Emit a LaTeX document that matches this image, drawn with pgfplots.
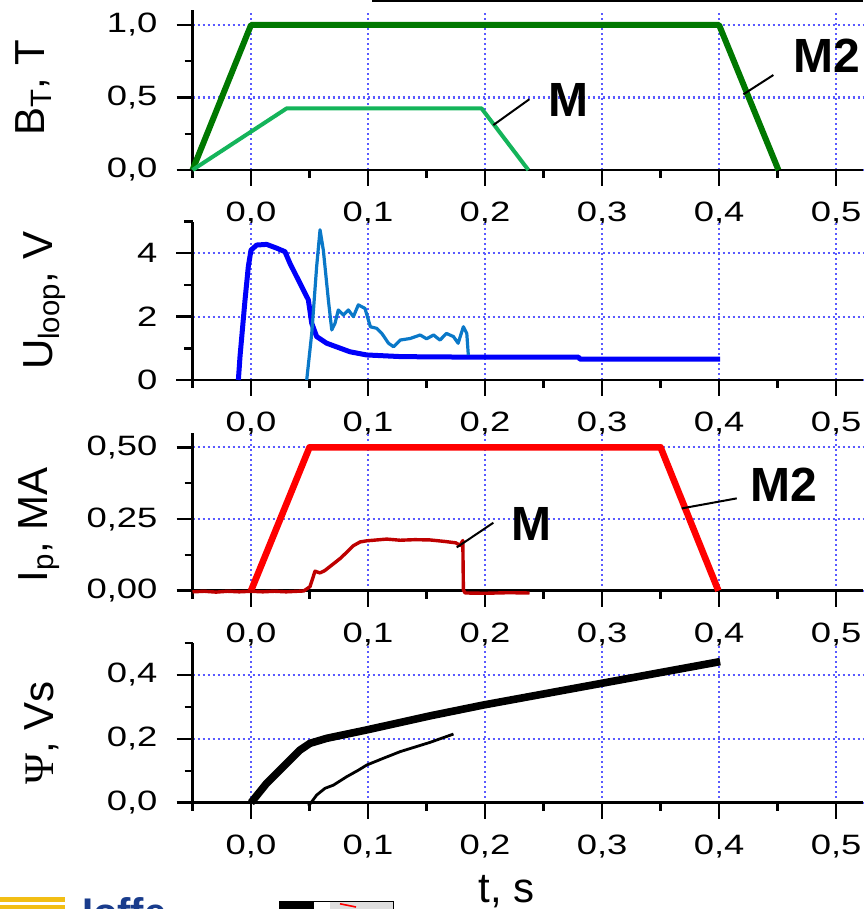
\documentclass[border=0pt]{standalone}
\usepackage{fontspec}
\setmainfont{Liberation Sans}
\newfontfamily\tickfont[FakeStretch=1.3]{Liberation Sans}
\newfontfamily\greekfont{Liberation Serif}
\usepackage{pgfplots}
\pgfplotsset{compat=1.18}

\definecolor{gridblue}{RGB}{90,90,255}
\definecolor{bdark}{RGB}{0,120,0}
\definecolor{blight}{RGB}{20,180,90}
\definecolor{uthick}{RGB}{0,0,250}
\definecolor{uthin}{RGB}{10,120,200}
\definecolor{ipthick}{RGB}{255,0,0}
\definecolor{ipthin}{RGB}{190,0,0}
\definecolor{ioffeblue}{RGB}{25,60,140}
\definecolor{ioffeyellow}{RGB}{242,190,20}

\tikzset{
  callout/.style={black,line width=1pt},
  tag/.style={font=\bfseries\fontsize{24}{28}\selectfont,inner sep=0pt},
}

\pgfplotsset{
  /pgf/number format/assume math mode=true,
  panel/.style={
    scale only axis, width=335.25pt,
    xmin=-0.05, xmax=0.523,
    axis x line=bottom, axis y line=left,
    axis line style={line width=1.2pt,-},
    tick align=outside,
    major tick length=8pt, minor tick length=4pt,
    every tick/.style={black,line width=1.2pt},
    xtick={0,0.1,0.2,0.3,0.4,0.5},
    minor xtick={-0.05,0.05,0.15,0.25,0.35,0.45},
    grid=major,
    major grid style={gridblue,line width=1.1pt,dash pattern=on 1pt off 1.5pt},
    ticklabel style={font=\tickfont\fontsize{14}{16}\selectfont},
    xticklabel style={yshift=-4.5pt,/pgf/number format/.cd,fixed,fixed zerofill,precision=1,use comma},
    yticklabel style={xshift=-6pt},
    scaled ticks=false,
    label style={font=\fontsize{21}{24}\selectfont},
    clip=false,
  },
}

\begin{document}
\begin{tikzpicture}
\useasboundingbox (0,0) rectangle (431.5pt,454.5pt);

% ---- toroidal field B_T ----
\begin{axis}[panel, at={(96.25pt,369.5pt)}, anchor=south west, height=79.75pt,
  ymin=0, ymax=1.1, ytick={0,0.5,1}, minor ytick={0.25,0.75},
  yticklabel style={/pgf/number format/.cd,fixed,fixed zerofill,precision=1,use comma},
  ylabel={B\textsubscript{T}, T},
  ylabel style={at={(axis description cs:-0.22,0.514)},anchor=base}]
\addplot[bdark, line width=3pt, line join=round] coordinates {
  (-0.05,0) (0,1) (0.4,1) (0.4507,0)};
\addplot[blight, line width=2pt, line join=round] coordinates {
  (-0.05,0) (0.0305,0.425) (0.197,0.425) (0.237,0)};
\draw[callout] (axis cs:0.2071,0.31) -- (axis cs:0.2379,0.488);
\node[tag] at (axis cs:0.271,0.483) {M};
\draw[callout] (axis cs:0.4208,0.522) -- (axis cs:0.4464,0.655);
\node[tag] at (axis cs:0.492,0.788) {M2};
\end{axis}

% ---- loop voltage ----
\begin{axis}[panel, at={(96.25pt,264.5pt)}, anchor=south west, height=79.2pt,
  ymin=0, ymax=5, ytick={0,2,4}, minor ytick={1,3,5},
  ylabel={U\textsubscript{loop}, V},
  ylabel style={at={(axis description cs:-0.2095,0.5)},anchor=base}]
\addplot[uthick, line width=2.5pt, line join=round] coordinates {
  (-0.0108,0) (-0.0094,0.74) (-0.0051,2.53) (-0.0023,3.58) (0,4.1)
  (0.0049,4.26) (0.0134,4.28) (0.022,4.16) (0.029,4.05) (0.0333,3.68)
  (0.0419,3.05) (0.049,2.53) (0.0519,1.79) (0.0561,1.37) (0.0647,1.16)
  (0.0846,0.89) (0.0989,0.79) (0.127,0.74) (0.15,0.73) (0.2,0.72)
  (0.28,0.72) (0.281,0.66) (0.4009,0.66)};
\addplot[uthin, line width=1.6pt, line join=round] coordinates {
  (0.0476,0) (0.0519,1.47) (0.0561,3.58) (0.059,4.74) (0.0618,4.1)
  (0.0661,2.53) (0.069,1.58) (0.0718,1.79) (0.0746,2.21) (0.0789,2.05)
  (0.0832,2.21) (0.0875,2.0) (0.0917,2.37) (0.0974,2.26) (0.102,1.68)
  (0.1075,1.63) (0.1118,1.47) (0.1175,1.16) (0.1218,1.05) (0.1275,1.26)
  (0.136,1.31) (0.1446,1.42) (0.150,1.30) (0.156,1.42) (0.1615,1.26)
  (0.167,1.47) (0.173,1.37) (0.177,1.16) (0.1815,1.68) (0.1844,1.47)
  (0.1857,0.79)};
\end{axis}

% ---- plasma current ----
\begin{axis}[panel, at={(96.25pt,159.15pt)}, anchor=south west, height=78.85pt,
  ymin=0, ymax=0.55, ytick={0,0.25,0.5}, minor ytick={0.125,0.375},
  yticklabel style={/pgf/number format/.cd,fixed,fixed zerofill,precision=2,use comma},
  ylabel={I\textsubscript{p}, MA},
  ylabel style={at={(axis description cs:-0.217,0.417)},anchor=base}]
\addplot[ipthick, line width=3.3pt, line join=round] coordinates {
  (0,0) (0.05,0.5) (0.35,0.5) (0.3994,0)};
\addplot[ipthin, line width=1.7pt, line join=round] coordinates {
  (-0.05,-0.004) (-0.04,-0.002) (-0.03,-0.005) (-0.02,-0.002) (-0.01,-0.004)
  (0,-0.002) (0.01,-0.004) (0.02,-0.002) (0.03,-0.004) (0.04,-0.002)
  (0.045,-0.001) (0.0504,0.014) (0.0547,0.068) (0.059,0.062) (0.063,0.07)
  (0.0705,0.094) (0.0761,0.112) (0.0818,0.134) (0.0875,0.157) (0.0932,0.17)
  (0.0989,0.174) (0.1075,0.177) (0.116,0.18) (0.1275,0.176) (0.14,0.178)
  (0.153,0.177) (0.165,0.172) (0.175,0.167) (0.1786,0.158) (0.181,0.175)
  (0.1815,0.002) (0.183,-0.008) (0.2,-0.009) (0.22,-0.007) (0.238,-0.008)};
\draw[callout] (axis cs:0.1758,0.151) -- (axis cs:0.2071,0.237);
\node[tag] at (axis cs:0.24,0.232) {M};
\draw[callout] (axis cs:0.3681,0.287) -- (axis cs:0.4151,0.322);
\node[tag] at (axis cs:0.455,0.3686) {M2};
\end{axis}

% ---- poloidal flux ----
\begin{axis}[panel, at={(96.25pt,53.15pt)}, anchor=south west, height=79.8pt,
  ymin=0, ymax=0.5, ytick={0,0.2,0.4}, minor ytick={0.1,0.3,0.5},
  yticklabel style={/pgf/number format/.cd,fixed,fixed zerofill,precision=1,use comma},
  ylabel={{\greekfont Ψ}, Vs},
  ylabel style={at={(axis description cs:-0.208,0.437)},anchor=base},
  xlabel={t, s},
  xlabel style={at={(axis description cs:0.4686,-0.625)},anchor=base}]
\addplot[black, line width=3.8pt, line join=round] coordinates {
  (0,0) (0.0134,0.061) (0.0276,0.113) (0.0419,0.165) (0.0504,0.186)
  (0.0647,0.2017) (0.0989,0.228) (0.153,0.272) (0.1986,0.306)
  (0.2997,0.374) (0.4009,0.442)};
\addplot[black, line width=1.4pt, line join=round] coordinates {
  (0.049,-0.01) (0.0519,0.003) (0.0561,0.024) (0.0632,0.045) (0.0704,0.055)
  (0.0818,0.0815) (0.0918,0.102) (0.0989,0.118) (0.113,0.139) (0.1275,0.16)
  (0.153,0.189) (0.173,0.215)};
\end{axis}

% frame edge and logos along the borders
\draw[line width=1pt] (186pt,453.9pt) -- (431.5pt,453.9pt);
\fill[ioffeyellow] (0,3.65pt) rectangle (32.5pt,5.85pt);
\fill[ioffeyellow] (0,-1pt) rectangle (32.5pt,2pt);
\node[anchor=north west, inner sep=0pt, text=ioffeblue,
  font=\bfseries\fontsize{20}{24}\selectfont] at (40.8pt,5.9pt) {Ioffe};
\draw[fill=white, line width=0.6pt] (139.65pt,-1pt) rectangle (196.65pt,3.65pt);
\fill[black] (140pt,-1pt) rectangle (157pt,3.3pt);
\fill[gray!25] (165pt,-1pt) rectangle (196.3pt,3.3pt);
\draw[red, line width=0.8pt] (170pt,2.6pt) -- (178pt,1pt);
\end{tikzpicture}
\end{document}
